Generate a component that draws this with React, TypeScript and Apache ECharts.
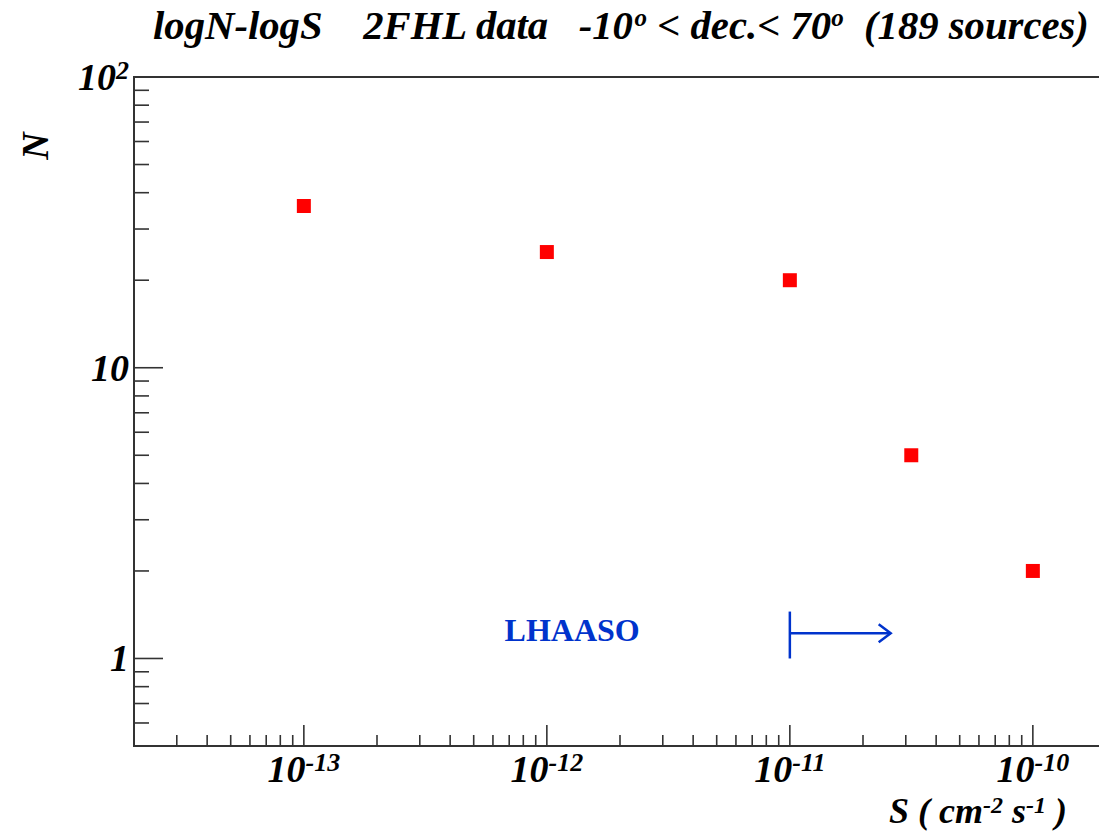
import React, { useEffect, useRef } from 'react';
import * as echarts from 'echarts';

// ---- data ----
const fluxS = [1e-13, 1e-12, 1e-11, 3.16e-11, 1e-10];
const countN = [36, 25, 20, 5, 2];
const xMin = 2e-14;
const xMax = 2e-10;
const yMin = 0.5;
const yMax = 100;
const xDecadeExps = [-14, -13, -12, -11, -10];
const yDecadeExps = [-1, 0, 1, 2];
const mantissas = [1, 2, 3, 4, 5, 6, 7, 8, 9];
const titleRich = 'logN-logS    2FHL data   -10{s|o} < dec.< 70{s|o}  (189 sources)';
const xTitleRich = 'S ( cm{s|-2} s{s|-1} )';
const yTitle = 'N';
const lhaasoLabel = 'LHAASO';
const lhaasoLabelPos = [6.7e-13, 1.25];
const lhaasoArrowX = [1e-11, 2.6e-11];
const lhaasoArrowY = 1.22;
const lhaasoBarY = [1.0, 1.45];

const FONT = '"Liberation Serif", "Times New Roman", serif';
const AX = '#333333';
const BLUE = '#0033cc';

function buildTicks(exps: number[], lo: number, hi: number) {
  const out: number[][] = [];
  for (const e of exps) {
    for (const m of mantissas) {
      const v = m * Math.pow(10, e);
      if (v >= lo * 0.999 && v <= hi * 1.001) out.push([v, m === 1 ? 1 : 0]);
    }
  }
  return out;
}

const xTicks = buildTicks(xDecadeExps, xMin, xMax);
const yTicks = buildTicks(yDecadeExps, yMin, yMax);

function powLabel(v: number, yAxis: boolean) {
  const l = Math.log10(v);
  const e = Math.round(l);
  if (Math.abs(l - e) > 1e-6) return '';
  if (yAxis) {
    if (e === 0) return '{b|1}';
    if (e === 1) return '{b|10}';
  }
  return '{b|10}{s|' + e + '}';
}

const labelRich = {
  b: { fontFamily: FONT, fontWeight: 'bold', fontStyle: 'italic', fontSize: 38, lineHeight: 40, color: '#000' },
  s: { fontFamily: FONT, fontWeight: 'bold', fontStyle: 'italic', fontSize: 26, lineHeight: 22, verticalAlign: 'top', color: '#000' },
};

export default function App() {
  const ref = useRef<HTMLDivElement>(null);
  useEffect(() => {
    document.body.style.margin = '0';
    if (!ref.current) return;
    const chart = echarts.init(ref.current, null, { renderer: 'svg' });
    const option: any = {
      animation: false,
      backgroundColor: '#ffffff',
      grid: {
        left: 134, top: 77, width: 972, height: 669,
        show: true, borderColor: AX, borderWidth: 2, backgroundColor: 'transparent',
        outerBoundsMode: 'none',
      },
      xAxis: {
        type: 'log', logBase: 10, min: xMin, max: xMax,
        axisLine: { show: false }, axisTick: { show: false }, splitLine: { show: false },
        axisLabel: {
          formatter: (v: number) => powLabel(v, false),
          margin: 3, rich: labelRich,
        },
      },
      yAxis: {
        type: 'log', logBase: 10, min: yMin, max: yMax,
        axisLine: { show: false }, axisTick: { show: false }, splitLine: { show: false },
        axisLabel: {
          formatter: (v: number) => powLabel(v, true),
          margin: 5, rich: labelRich,
        },
      },
      series: [
        {
          type: 'custom',
          data: xTicks.map((t) => [t[0], yMin, t[1]]),
          encode: { x: 0, y: 1 },
          silent: true,
          renderItem: (params: any, api: any) => {
            const p = api.coord([api.value(0), yMin]);
            const len = api.value(2) ? 21 : 11;
            return {
              type: 'line',
              shape: { x1: p[0], y1: p[1], x2: p[0], y2: p[1] - len },
              style: { stroke: AX, lineWidth: 1.6 },
            };
          },
        },
        {
          type: 'custom',
          data: yTicks.map((t) => [xMin, t[0], t[1]]),
          encode: { x: 0, y: 1 },
          silent: true,
          renderItem: (params: any, api: any) => {
            const p = api.coord([xMin, api.value(1)]);
            const len = api.value(2) ? 29 : 15;
            return {
              type: 'line',
              shape: { x1: p[0], y1: p[1], x2: p[0] + len, y2: p[1] },
              style: { stroke: AX, lineWidth: 1.6 },
            };
          },
        },
        {
          type: 'scatter',
          symbol: 'rect',
          symbolSize: 14,
          itemStyle: { color: '#ff0000', opacity: 1 },
          data: fluxS.map((s, i) => [s, countN[i]]),
          z: 5,
        },
      ],
    };
    chart.setOption(option);

    const lp = chart.convertToPixel({ gridIndex: 0 }, lhaasoLabelPos) as number[];
    const a0 = chart.convertToPixel({ gridIndex: 0 }, [lhaasoArrowX[0], lhaasoArrowY]) as number[];
    const a1 = chart.convertToPixel({ gridIndex: 0 }, [lhaasoArrowX[1], lhaasoArrowY]) as number[];
    const b0 = chart.convertToPixel({ gridIndex: 0 }, [lhaasoArrowX[0], lhaasoBarY[0]]) as number[];
    const b1 = chart.convertToPixel({ gridIndex: 0 }, [lhaasoArrowX[0], lhaasoBarY[1]]) as number[];
    const arrowStyle = { stroke: BLUE, lineWidth: 2.5, fill: null };

    chart.setOption({
      graphic: [
        {
          type: 'text', x: 153, y: 25,
          style: {
            text: titleRich, fontFamily: FONT, fontWeight: 'bold', fontStyle: 'italic', fontSize: 40.7,
            fill: '#000', align: 'left', verticalAlign: 'middle',
            rich: { s: { fontFamily: FONT, fontWeight: 'bold', fontStyle: 'italic', fontSize: 25, lineHeight: 24, verticalAlign: 'top', fill: '#000' } },
          },
        },
        {
          type: 'text', x: 35, y: 146, rotation: Math.PI / 2,
          style: {
            text: yTitle, fontFamily: FONT, fontWeight: 'bold', fontStyle: 'italic', fontSize: 38,
            fill: '#000', align: 'center', verticalAlign: 'middle',
          },
        },
        {
          type: 'text', x: 1067, y: 811,
          style: {
            text: xTitleRich, fontFamily: FONT, fontWeight: 'bold', fontStyle: 'italic', fontSize: 36, lineHeight: 36,
            fill: '#000', align: 'right', verticalAlign: 'middle',
            rich: { s: { fontFamily: FONT, fontWeight: 'bold', fontStyle: 'italic', fontSize: 24, lineHeight: 22, verticalAlign: 'top', fill: '#000' } },
          },
        },
        {
          type: 'text', x: lp[0], y: lp[1],
          style: {
            text: lhaasoLabel, fontFamily: FONT, fontWeight: 'bold', fontSize: 32,
            fill: BLUE, align: 'left', verticalAlign: 'middle',
          },
        },
        { type: 'line', shape: { x1: b0[0], y1: b0[1], x2: b1[0], y2: b1[1] }, style: arrowStyle },
        { type: 'line', shape: { x1: a0[0], y1: a0[1], x2: a1[0], y2: a1[1] }, style: arrowStyle },
        {
          type: 'polyline',
          shape: { points: [[a1[0] - 12, a1[1] - 9], [a1[0], a1[1]], [a1[0] - 12, a1[1] + 9]] },
          style: arrowStyle,
        },
      ],
    });

    return () => chart.dispose();
  }, []);
  return <div ref={ref} style={{ width: 1099, height: 832 }} />;
}
